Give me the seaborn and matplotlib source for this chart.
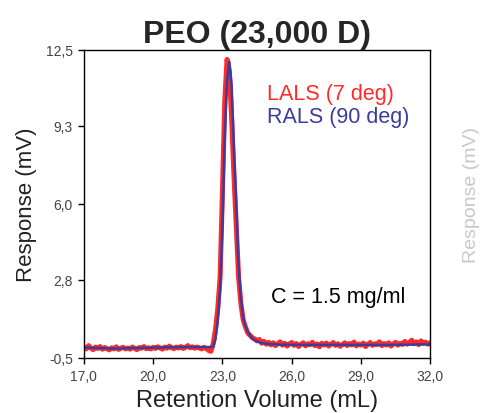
import numpy as np
import pandas as pd
import matplotlib
matplotlib.use('Agg')
import matplotlib.pyplot as plt
import seaborn as sns

# retention volume grid (mL), 17.0 .. 32.0 every 0.1
volume = np.round(np.arange(170, 321) / 10, 1)

# LALS (7 deg) response, noisy
lals = [
    -0.05, -0.12, 0.02, -0.08, -0.15, -0.04, -0.10, -0.02, -0.13, -0.06,
    -0.11, -0.16, -0.07, -0.12, -0.03, -0.14, -0.09, -0.05, -0.12, -0.08,
    -0.13, -0.04, -0.10, -0.15, -0.06, -0.09, -0.02, -0.11, -0.07, -0.12,
    -0.05, -0.10, -0.03, -0.08, -0.13, -0.04, -0.09, 0.00, -0.07, -0.11,
    -0.04, -0.08, -0.02, -0.10, -0.05, 0.02, -0.07, -0.03, -0.09, -0.04,
    -0.08, -0.12, -0.05, -0.10, -0.18, -0.22, 0.10, 0.70, 1.60, 2.90,
    6.50, 10.30, 12.10, 11.60, 9.60, 7.20, 5.00, 2.90, 1.80, 1.10,
    0.80, 0.55, 0.45, 0.35, 0.30, 0.22, 0.28, 0.12, 0.20, 0.08,
    0.16, 0.05, 0.14, 0.02, 0.10, 0.18, 0.04, 0.12, 0.00, 0.09,
    0.15, 0.03, 0.11, -0.02, 0.08, 0.14, 0.01, 0.10, 0.06, 0.16,
    0.02, 0.09, -0.03, 0.12, 0.05, 0.13, 0.00, 0.08, 0.15, 0.03,
    0.10, -0.01, 0.07, 0.14, 0.02, 0.11, 0.05, 0.17, 0.01, 0.09,
    0.04, 0.13, -0.02, 0.08, 0.15, 0.03, 0.10, 0.06, 0.18, 0.02,
    0.11, 0.05, 0.14, 0.00, 0.09, 0.16, 0.04, 0.12, 0.07, 0.20,
    0.08, 0.15, 0.25, 0.10, 0.18, 0.06, 0.22, 0.12, 0.17, 0.08,
    0.14,
]

# RALS (90 deg) response, smoother
rals = [
    -0.05, -0.06, -0.06, -0.07, -0.07, -0.08, -0.08, -0.08, -0.09, -0.09,
    -0.09, -0.10, -0.10, -0.10, -0.10, -0.10, -0.10, -0.09, -0.09, -0.09,
    -0.09, -0.08, -0.08, -0.08, -0.08, -0.07, -0.07, -0.07, -0.07, -0.07,
    -0.06, -0.06, -0.06, -0.06, -0.06, -0.05, -0.05, -0.05, -0.05, -0.05,
    -0.05, -0.05, -0.04, -0.04, -0.04, -0.04, -0.04, -0.04, -0.04, -0.04,
    -0.04, -0.04, -0.04, -0.04, -0.04, -0.04, -0.02, 0.30, 1.10, 2.40,
    5.00, 8.80, 11.20, 12.00, 11.00, 8.30, 6.00, 3.40, 2.00, 1.20,
    0.85, 0.60, 0.45, 0.32, 0.25, 0.20, 0.16, 0.13, 0.11, 0.10,
    0.09, 0.08, 0.08, 0.07, 0.07, 0.06, 0.06, 0.06, 0.06, 0.05,
    0.05, 0.05, 0.05, 0.05, 0.05, 0.05, 0.05, 0.05, 0.05, 0.05,
    0.05, 0.05, 0.05, 0.05, 0.05, 0.05, 0.05, 0.05, 0.05, 0.05,
    0.05, 0.05, 0.05, 0.05, 0.05, 0.05, 0.05, 0.05, 0.05, 0.05,
    0.05, 0.05, 0.05, 0.05, 0.05, 0.05, 0.05, 0.05, 0.05, 0.05,
    0.05, 0.05, 0.05, 0.05, 0.05, 0.05, 0.05, 0.06, 0.06, 0.06,
    0.06, 0.06, 0.06, 0.06, 0.07, 0.07, 0.07, 0.07, 0.07, 0.07,
    0.07,
]

xticks = [17.0, 20.0, 23.0, 26.0, 29.0, 32.0]
yticks = [-0.5, 2.8, 6.0, 9.3, 12.5]

sns.set_style('white')
plt.rcParams['font.family'] = ['Liberation Sans', 'DejaVu Sans']

df = pd.DataFrame({
    'volume': np.concatenate([volume, volume]),
    'response': lals + rals,
    'detector': ['LALS (7 deg)'] * len(volume) + ['RALS (90 deg)'] * len(volume),
})

fig = plt.figure(figsize=(4.85, 4.14), dpi=100)
ax = fig.add_axes([0.173, 0.133, 0.714, 0.744])

sns.lineplot(data=df[df.detector == 'LALS (7 deg)'], x='volume', y='response',
             color='#ff2a2a', linewidth=3.6, ax=ax, legend=False)
sns.lineplot(data=df[df.detector == 'RALS (90 deg)'], x='volume', y='response',
             color='#3c3c9c', linewidth=1.8, ax=ax, legend=False)

ax.set_xlim(17, 32)
ax.set_ylim(-0.5, 12.5)
ax.set_xticks(xticks)
ax.set_xticklabels([f'{v:.1f}'.replace('.', ',') for v in xticks])
ax.set_yticks(yticks)
ax.set_yticklabels([f'{v:.1f}'.replace('.', ',') for v in yticks])
ax.tick_params(axis='both', direction='out', length=4, width=1, colors='black',
               labelsize=10, labelcolor='#444444', pad=4, bottom=True, left=True)
for s in ax.spines.values():
    s.set_color('black')
    s.set_linewidth(1)

ax.set_xlabel('Retention Volume (mL)', fontsize=17, color='#222222', labelpad=4)
ax.set_ylabel('Response (mV)', fontsize=16, color='#222222', labelpad=6)
ax.set_title('PEO (23,000 D)', fontsize=23, fontweight='bold', pad=6)

ax.text(0.53, 0.86, 'LALS (7 deg)', transform=ax.transAxes, color='#ff2a2a',
        fontsize=15.5, va='center', ha='left')
ax.text(0.53, 0.785, 'RALS (90 deg)', transform=ax.transAxes, color='#3c3c9c',
        fontsize=15.5, va='center', ha='left')
ax.text(0.54, 0.2, 'C = 1.5 mg/ml', transform=ax.transAxes, color='black',
        fontsize=15.5, va='center', ha='left')

# label of the neighbouring panel, at the right edge
fig.text(463 / 485, 0.53, 'Response (mV)', rotation=90, color='#c8c8c8',
         fontsize=14, ha='left', va='center')

fig.savefig('out.png', dpi=100)
